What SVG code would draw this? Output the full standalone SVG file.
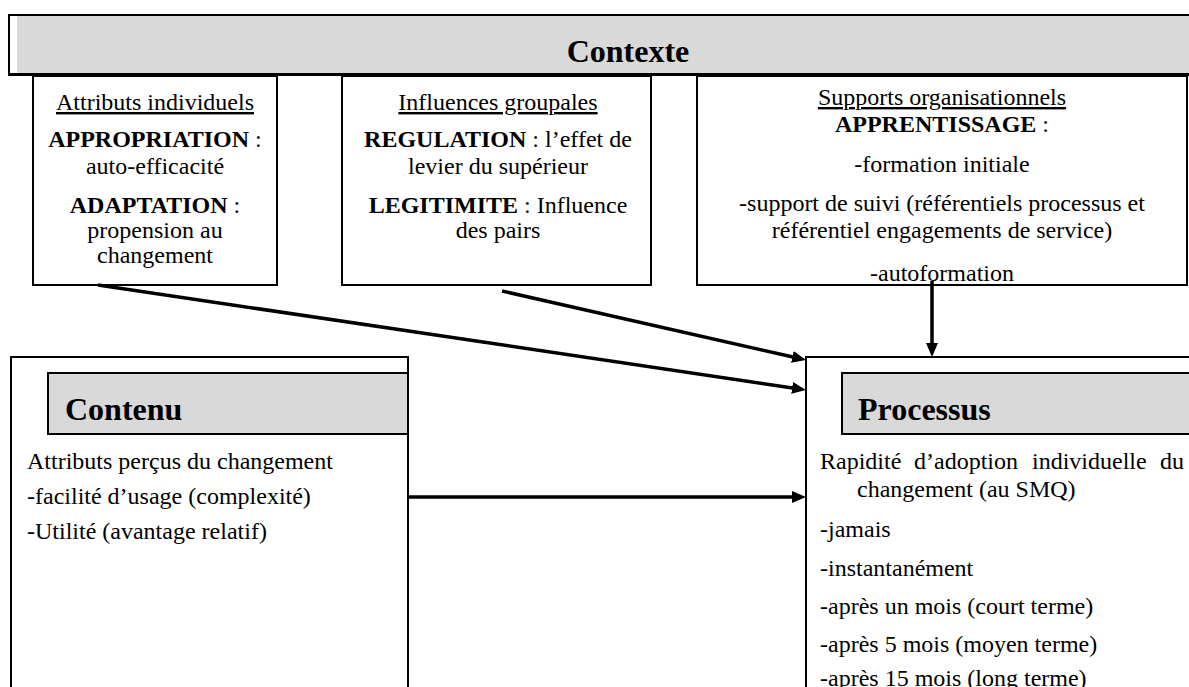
<svg xmlns="http://www.w3.org/2000/svg" width="1189" height="687" viewBox="0 0 1189 687">
<style>
text{font-family:"Liberation Serif","Times New Roman",serif;fill:#000}
.t{font-size:24px}
.h{font-size:32px;font-weight:bold}
.b{font-weight:bold}
.c{text-anchor:middle}
.u{text-decoration:underline}
.box{fill:#fff;stroke:#000;stroke-width:2}
.gray{fill:#d9d9d9;stroke:#000;stroke-width:2}
.conn{stroke:#000;stroke-width:3.5;fill:none;marker-end:url(#ah)}
</style>
<defs>
<marker id="ah" markerUnits="userSpaceOnUse" markerWidth="16" markerHeight="14" refX="4" refY="6" orient="auto">
<path d="M0,0 L14,6 L0,12 z" fill="#000"/>
</marker>
</defs>
<rect width="1189" height="687" fill="#fff"/>
<g id="contexte">
<rect x="9" y="15" width="1190" height="60" fill="#fff" stroke="#000" stroke-width="2"/>
<rect x="17" y="16" width="1180" height="57" fill="#d9d9d9"/>
<line x1="9" y1="74.5" x2="1189" y2="74.5" stroke="#000" stroke-width="3"/>
<text class="h c" x="628" y="62">Contexte</text>
</g>
<g id="attributs-individuels">
<rect class="box" x="33" y="76" width="244" height="209"/>
<text class="t c u" x="155" y="110">Attributs individuels</text>
<text class="t c" x="155" y="147"><tspan class="b">APPROPRIATION</tspan> :</text>
<text class="t c" x="155" y="174">auto-efficacité</text>
<text class="t c" x="155" y="213"><tspan class="b">ADAPTATION</tspan> :</text>
<text class="t c" x="155" y="238">propension au</text>
<text class="t c" x="155" y="263">changement</text>
</g>
<g id="influences-groupales">
<rect class="box" x="342" y="76" width="309" height="209"/>
<text class="t c u" x="498" y="110">Influences groupales</text>
<text class="t c" x="498" y="147"><tspan class="b">REGULATION</tspan> : l’effet de</text>
<text class="t c" x="498" y="174">levier du supérieur</text>
<text class="t c" x="498" y="213"><tspan class="b">LEGITIMITE</tspan> : Influence</text>
<text class="t c" x="498" y="238">des pairs</text>
</g>
<g id="supports-organisationnels">
<rect class="box" x="697" y="76" width="490" height="209"/>
<text class="t c u" x="942" y="105">Supports organisationnels</text>
<text class="t c" x="942" y="132"><tspan class="b">APPRENTISSAGE</tspan> :</text>
<text class="t c" x="942" y="172">-formation initiale</text>
<text class="t c" x="942" y="211">-support de suivi (référentiels processus et</text>
<text class="t c" x="942" y="238">référentiel engagements de service)</text>
<text class="t c" x="942" y="281">-autoformation</text>
</g>
<g id="contenu">
<rect class="box" x="11" y="357" width="397" height="340"/>
<rect class="gray" x="48" y="373" width="360" height="61"/>
<text class="h" x="65" y="420">Contenu</text>
<text class="t" x="27" y="469">Attributs perçus du changement</text>
<text class="t" x="27" y="504">-facilité d’usage (complexité)</text>
<text class="t" x="27" y="539">-Utilité (avantage relatif)</text>
</g>
<g id="processus">
<rect class="box" x="806" y="357" width="400" height="340"/>
<rect class="gray" x="842" y="373" width="360" height="61"/>
<text class="h" x="858" y="420">Processus</text>
<text class="t" x="820" y="469">Rapidité</text>
<text class="t" x="914" y="469">d’adoption</text>
<text class="t" x="1032" y="469">individuelle</text>
<text class="t" x="1184" y="469" text-anchor="end">du</text>
<text class="t" x="857" y="497">changement (au SMQ)</text>
<text class="t" x="820" y="537">-jamais</text>
<text class="t" x="820" y="576">-instantanément</text>
<text class="t" x="820" y="614">-après un mois (court terme)</text>
<text class="t" x="820" y="652">-après 5 mois (moyen terme)</text>
<text class="t" x="820" y="686">-après 15 mois (long terme)</text>
</g>
<g id="connectors">
<line class="conn" x1="98" y1="285" x2="796.1" y2="388.5"/>
<line class="conn" x1="502" y1="291" x2="796.25" y2="357.8"/>
<line class="conn" x1="932" y1="281" x2="932" y2="347"/>
<line class="conn" x1="407" y1="497" x2="796" y2="497"/>
</g>
</svg>
